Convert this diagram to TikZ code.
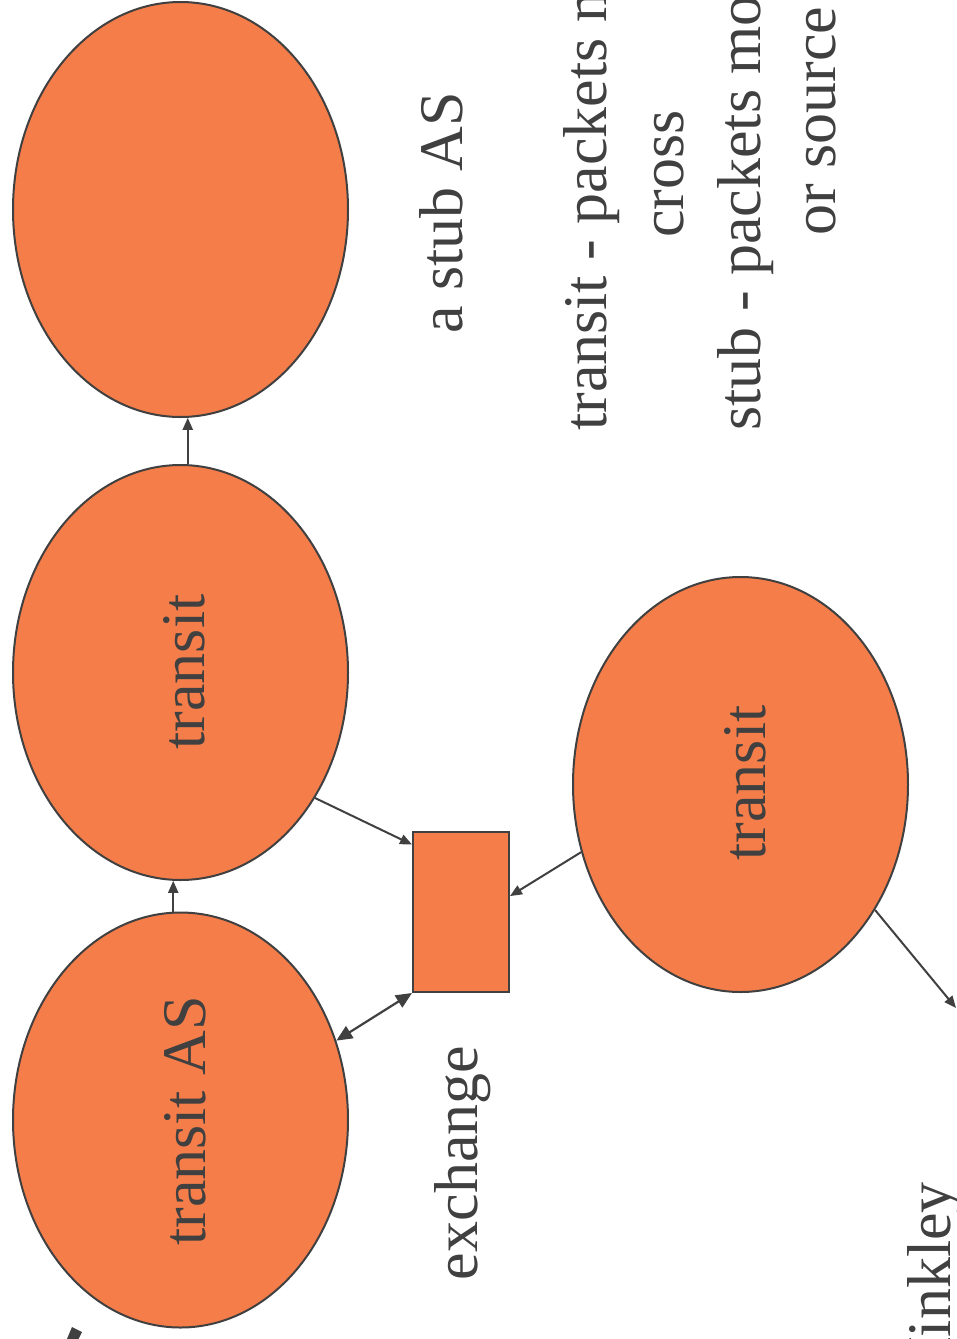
\documentclass[tikz,border=0pt]{standalone}
\usepackage{fontspec}
\setmainfont{Liberation Serif}
\usetikzlibrary{shapes.geometric,arrows.meta,calc}
\definecolor{asfill}{HTML}{F47D4A}
\definecolor{ink}{HTML}{404040}
\tikzset{
  asnode/.style={ellipse, draw=ink, line width=2pt, fill=asfill, inner sep=0pt, minimum width=335pt, minimum height=415pt},
  xbox/.style={rectangle, draw=ink, line width=2pt, fill=asfill, inner sep=0pt, minimum width=96pt, minimum height=160pt},
  lbl/.style={rotate=90, text=ink, font=\fontsize{62}{74}\selectfont, inner sep=0pt},
  conn/.style={draw=ink, line width=2pt, -{Triangle[length=12pt,width=10pt]}},
  dconn/.style={draw=ink, line width=2.2pt, {Triangle[length=16pt,width=14pt]}-{Triangle[length=16pt,width=14pt]}}
}
\begin{document}
\begin{tikzpicture}[x=1pt,y=-1pt]
\useasboundingbox (0,0) rectangle (957,1339);
% AS ellipses
\node[asnode] (stub) at (180.5,209.5) {};
\node[asnode] (tmid) at (180.5,672.5) {};
\node[asnode] (tas) at (180.5,1120) {};
\node[asnode] (tright) at (740.5,784.5) {};
\node[xbox] (ex) at (461,912) {};
% labels
\node[lbl, anchor=base] (l1) at (204,672) {transit};
\node[lbl, anchor=base] (l2) at (205,1121) {transit AS};
\node[lbl, anchor=base] (l3) at (765,783) {transit};
\node[lbl, anchor=base] (l4) at (462,213) {a stub AS};
\node[lbl, anchor=base] (l5) at (477,1163) {exchange};
\node[lbl, anchor=base west] (t1) at (606,431) {transit - packets may};
\node[lbl, anchor=base] (t2) at (683,174) {cross};
\node[lbl, anchor=base west] (t3) at (760,431) {stub - packets move};
\node[lbl, anchor=base] (t4) at (835,121) {or source};
\node[lbl, anchor=base east] (hk) at (950,1182) {Hinkley};
% connectors
\coordinate (offend) at (956,1008);
\draw[conn] (tmid.88) -- (stub.-88);
\draw[conn] (tas.92) -- (tmid.-92);
\draw[conn] (tmid.-43.3) -- (ex.126.9);
\draw[conn] (tright.203.2) -- (ex.18.4);
\draw[dconn] (ex.south west) -- (tas.27.5);
\draw[conn] (tright.-43) -- (offend);
% cut-off mark at bottom left
\fill[ink] (72,1327) -- (82,1332) -- (75,1346) -- (64,1346) -- cycle;
\end{tikzpicture}
\end{document}
